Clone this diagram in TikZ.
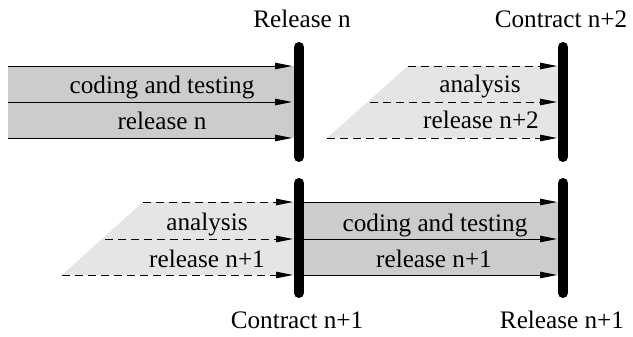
\documentclass[tikz,border=0pt]{standalone}
\usepackage{fontspec}
\setmainfont{Liberation Serif}
\usetikzlibrary{arrows.meta}
\definecolor{darkfill}{gray}{0.8}
\definecolor{lightfill}{gray}{0.9}
\begin{document}
\begin{tikzpicture}[x=1pt,y=-1pt,
  lbl/.style={anchor=base,inner sep=0pt,font=\fontsize{25.2}{28}\selectfont},
  flow/.style={line width=0.9pt,-{Triangle[length=17pt,width=6.5pt]}},
  dflow/.style={flow,dash pattern=on 8pt off 5pt},
  milestone/.style={line width=10pt,line cap=round}]
\useasboundingbox (0,0) rectangle (633,337);
% fills
\fill[darkfill] (8,66) rectangle (299,138);
\fill[lightfill] (408,66) -- (563,66) -- (563,138) -- (327,138) -- cycle;
\fill[lightfill] (143,202) -- (299,202) -- (299,275) -- (62,275) -- cycle;
\fill[darkfill] (299,202) rectangle (563,275);
% coordinates
\coordinate (a1) at (8,66);   \coordinate (a1e) at (292,66);
\coordinate (a2) at (8,102);  \coordinate (a2e) at (292,102);
\coordinate (a3) at (8,138);  \coordinate (a3e) at (292,138);
\coordinate (b1) at (408,66); \coordinate (b1e) at (557,66);
\coordinate (b2) at (370,102);\coordinate (b2e) at (557,102);
\coordinate (b3) at (327,138);\coordinate (b3e) at (557,138);
\coordinate (c1) at (143,202);\coordinate (c1e) at (293,202);
\coordinate (c2) at (105,239);\coordinate (c2e) at (293,239);
\coordinate (c3) at (62,275); \coordinate (c3e) at (293,275);
\coordinate (d1) at (304,202);\coordinate (d1e) at (557,202);
\coordinate (d2) at (304,239);\coordinate (d2e) at (557,239);
\coordinate (d3) at (304,275);\coordinate (d3e) at (557,275);
% arrows
\draw[flow] (a1) -- (a1e);
\draw[flow] (a2) -- (a2e);
\draw[flow] (a3) -- (a3e);
\draw[dflow] (b1) -- (b1e);
\draw[dflow] (b2) -- (b2e);
\draw[dflow] (b3) -- (b3e);
\draw[dflow] (c1) -- (c1e);
\draw[dflow] (c2) -- (c2e);
\draw[dflow] (c3) -- (c3e);
\draw[flow] (d1) -- (d1e);
\draw[flow] (d2) -- (d2e);
\draw[flow] (d3) -- (d3e);
% labels in blocks
\node[lbl] (t1) at (162,94) {coding and testing};
\node[lbl] (t2) at (162,130) {release n};
\node[lbl] (t3) at (480,93) {analysis};
\node[lbl] (t4) at (481,129) {release n+2};
\node[lbl] (t5) at (207,230) {analysis};
\node[lbl] (t6) at (207,267) {release n+1};
\node[lbl] (t7) at (435,232) {coding and testing};
\node[lbl] (t8) at (434,267) {release n+1};
% milestones
\coordinate (m1t) at (299,47);  \coordinate (m1b) at (299,157);
\coordinate (m2t) at (563,47);  \coordinate (m2b) at (563,157);
\coordinate (m3t) at (299,183); \coordinate (m3b) at (299,293);
\coordinate (m4t) at (563,183); \coordinate (m4b) at (563,293);
\draw[milestone] (m1t) -- (m1b);
\draw[milestone] (m2t) -- (m2b);
\draw[milestone] (m3t) -- (m3b);
\draw[milestone] (m4t) -- (m4b);
\node[lbl] (r1) at (302,28) {Release n};
\node[lbl] (r2) at (561,28) {Contract n+2};
\node[lbl] (r3) at (297,328) {Contract n+1};
\node[lbl] (r4) at (562,328) {Release n+1};
\end{tikzpicture}
\end{document}
